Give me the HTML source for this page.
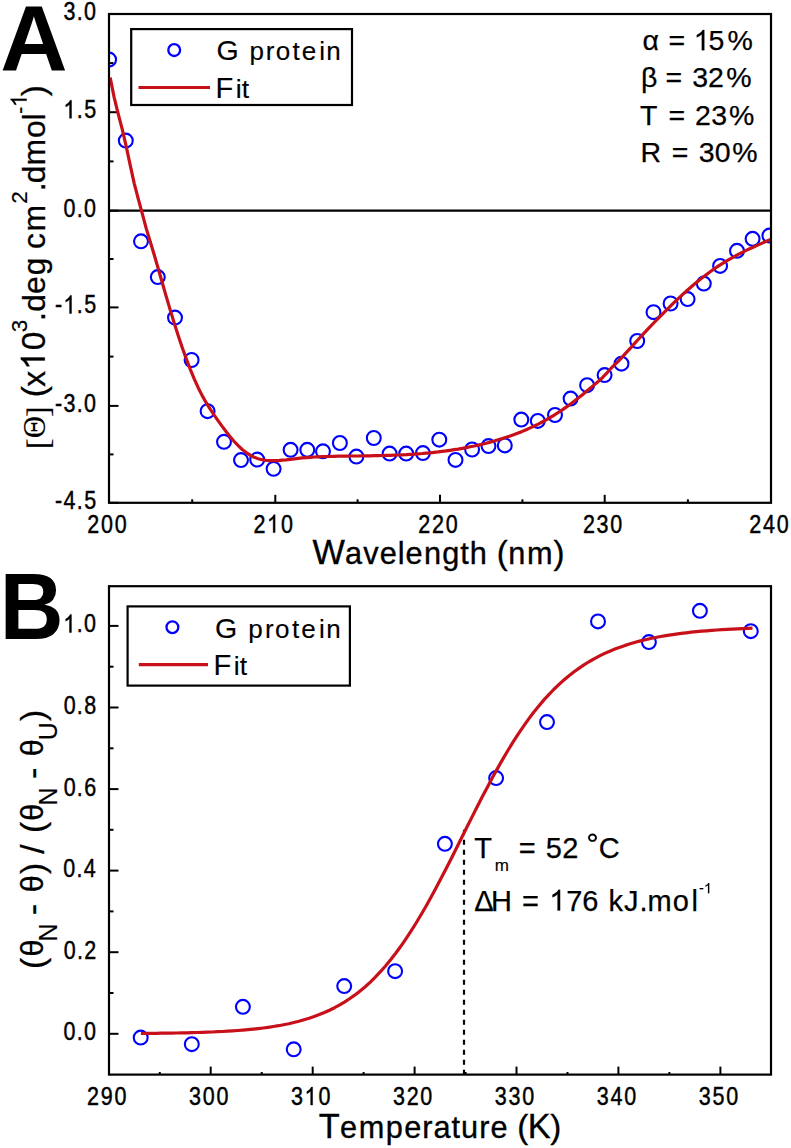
<!DOCTYPE html><html><head><meta charset="utf-8"><style>html,body{margin:0;padding:0;background:#fff;overflow:hidden;}svg{display:block;}text{font-family:"Liberation Sans",sans-serif;fill:#000;}.serif{font-family:"Liberation Serif",serif;}</style></head><body>
<svg width="791" height="1148" viewBox="0 0 791 1148">
<rect x="0" y="0" width="791" height="1148" fill="#fff"/>
<defs><clipPath id="ca"><rect x="109.0" y="14.0" width="662.0" height="488.8"/></clipPath><clipPath id="cb"><rect x="109.0" y="586.2" width="662.0" height="488.4"/></clipPath></defs>
<line x1="109.0" y1="210.7" x2="771.0" y2="210.7" stroke="#000" stroke-width="2.2"/>
<line x1="109.0" y1="14.0" x2="118.5" y2="14.0" stroke="#000" stroke-width="2"/>
<line x1="109.0" y1="112.2" x2="118.5" y2="112.2" stroke="#000" stroke-width="2"/>
<line x1="109.0" y1="210.7" x2="118.5" y2="210.7" stroke="#000" stroke-width="2"/>
<line x1="109.0" y1="307.4" x2="118.5" y2="307.4" stroke="#000" stroke-width="2"/>
<line x1="109.0" y1="405.9" x2="118.5" y2="405.9" stroke="#000" stroke-width="2"/>
<line x1="109.0" y1="502.8" x2="118.5" y2="502.8" stroke="#000" stroke-width="2"/>
<line x1="109.0" y1="63.1" x2="113.5" y2="63.1" stroke="#000" stroke-width="2"/>
<line x1="109.0" y1="161.4" x2="113.5" y2="161.4" stroke="#000" stroke-width="2"/>
<line x1="109.0" y1="259.0" x2="113.5" y2="259.0" stroke="#000" stroke-width="2"/>
<line x1="109.0" y1="356.6" x2="113.5" y2="356.6" stroke="#000" stroke-width="2"/>
<line x1="109.0" y1="454.4" x2="113.5" y2="454.4" stroke="#000" stroke-width="2"/>
<line x1="109.0" y1="502.8" x2="109.0" y2="494.8" stroke="#000" stroke-width="2"/>
<line x1="275.3" y1="502.8" x2="275.3" y2="494.8" stroke="#000" stroke-width="2"/>
<line x1="440.0" y1="502.8" x2="440.0" y2="494.8" stroke="#000" stroke-width="2"/>
<line x1="604.7" y1="502.8" x2="604.7" y2="494.8" stroke="#000" stroke-width="2"/>
<line x1="771.0" y1="502.8" x2="771.0" y2="494.8" stroke="#000" stroke-width="2"/>
<line x1="192.2" y1="502.8" x2="192.2" y2="499.3" stroke="#000" stroke-width="2"/>
<line x1="357.6" y1="502.8" x2="357.6" y2="499.3" stroke="#000" stroke-width="2"/>
<line x1="522.4" y1="502.8" x2="522.4" y2="499.3" stroke="#000" stroke-width="2"/>
<line x1="687.9" y1="502.8" x2="687.9" y2="499.3" stroke="#000" stroke-width="2"/>
<g clip-path="url(#ca)">
<circle cx="109.1" cy="59.6" r="6.95" fill="none" stroke="#0000ff" stroke-width="2.1"/>
<circle cx="125.8" cy="140.6" r="6.95" fill="none" stroke="#0000ff" stroke-width="2.1"/>
<circle cx="141.0" cy="241.3" r="6.95" fill="none" stroke="#0000ff" stroke-width="2.1"/>
<circle cx="157.8" cy="277.1" r="6.95" fill="none" stroke="#0000ff" stroke-width="2.1"/>
<circle cx="175.0" cy="317.6" r="6.95" fill="none" stroke="#0000ff" stroke-width="2.1"/>
<circle cx="191.6" cy="360.0" r="6.95" fill="none" stroke="#0000ff" stroke-width="2.1"/>
<circle cx="207.6" cy="411.2" r="6.95" fill="none" stroke="#0000ff" stroke-width="2.1"/>
<circle cx="224.0" cy="441.8" r="6.95" fill="none" stroke="#0000ff" stroke-width="2.1"/>
<circle cx="241.0" cy="460.1" r="6.95" fill="none" stroke="#0000ff" stroke-width="2.1"/>
<circle cx="257.2" cy="459.6" r="6.95" fill="none" stroke="#0000ff" stroke-width="2.1"/>
<circle cx="273.6" cy="468.8" r="6.95" fill="none" stroke="#0000ff" stroke-width="2.1"/>
<circle cx="290.6" cy="449.8" r="6.95" fill="none" stroke="#0000ff" stroke-width="2.1"/>
<circle cx="307.3" cy="449.8" r="6.95" fill="none" stroke="#0000ff" stroke-width="2.1"/>
<circle cx="323.0" cy="451.3" r="6.95" fill="none" stroke="#0000ff" stroke-width="2.1"/>
<circle cx="339.9" cy="443.0" r="6.95" fill="none" stroke="#0000ff" stroke-width="2.1"/>
<circle cx="356.4" cy="456.6" r="6.95" fill="none" stroke="#0000ff" stroke-width="2.1"/>
<circle cx="373.8" cy="438.0" r="6.95" fill="none" stroke="#0000ff" stroke-width="2.1"/>
<circle cx="389.6" cy="453.6" r="6.95" fill="none" stroke="#0000ff" stroke-width="2.1"/>
<circle cx="406.2" cy="453.6" r="6.95" fill="none" stroke="#0000ff" stroke-width="2.1"/>
<circle cx="422.9" cy="453.1" r="6.95" fill="none" stroke="#0000ff" stroke-width="2.1"/>
<circle cx="439.3" cy="439.7" r="6.95" fill="none" stroke="#0000ff" stroke-width="2.1"/>
<circle cx="455.5" cy="459.9" r="6.95" fill="none" stroke="#0000ff" stroke-width="2.1"/>
<circle cx="472.1" cy="449.5" r="6.95" fill="none" stroke="#0000ff" stroke-width="2.1"/>
<circle cx="488.5" cy="446.1" r="6.95" fill="none" stroke="#0000ff" stroke-width="2.1"/>
<circle cx="504.8" cy="445.4" r="6.95" fill="none" stroke="#0000ff" stroke-width="2.1"/>
<circle cx="521.3" cy="419.6" r="6.95" fill="none" stroke="#0000ff" stroke-width="2.1"/>
<circle cx="537.8" cy="420.9" r="6.95" fill="none" stroke="#0000ff" stroke-width="2.1"/>
<circle cx="555.0" cy="415.0" r="6.95" fill="none" stroke="#0000ff" stroke-width="2.1"/>
<circle cx="570.6" cy="398.6" r="6.95" fill="none" stroke="#0000ff" stroke-width="2.1"/>
<circle cx="587.1" cy="385.2" r="6.95" fill="none" stroke="#0000ff" stroke-width="2.1"/>
<circle cx="604.6" cy="375.1" r="6.95" fill="none" stroke="#0000ff" stroke-width="2.1"/>
<circle cx="621.5" cy="363.7" r="6.95" fill="none" stroke="#0000ff" stroke-width="2.1"/>
<circle cx="637.2" cy="341.0" r="6.95" fill="none" stroke="#0000ff" stroke-width="2.1"/>
<circle cx="653.5" cy="312.2" r="6.95" fill="none" stroke="#0000ff" stroke-width="2.1"/>
<circle cx="670.6" cy="303.5" r="6.95" fill="none" stroke="#0000ff" stroke-width="2.1"/>
<circle cx="687.6" cy="299.1" r="6.95" fill="none" stroke="#0000ff" stroke-width="2.1"/>
<circle cx="703.8" cy="283.6" r="6.95" fill="none" stroke="#0000ff" stroke-width="2.1"/>
<circle cx="720.1" cy="265.9" r="6.95" fill="none" stroke="#0000ff" stroke-width="2.1"/>
<circle cx="737.0" cy="250.8" r="6.95" fill="none" stroke="#0000ff" stroke-width="2.1"/>
<circle cx="752.6" cy="238.8" r="6.95" fill="none" stroke="#0000ff" stroke-width="2.1"/>
<circle cx="769.4" cy="235.6" r="6.95" fill="none" stroke="#0000ff" stroke-width="2.1"/>
<path d="M110.2,77.5 L114.2,97.6 L118.2,113.9 L122.2,129.2 L126.2,146.3 L130.2,165.2 L134.2,183.3 L138.2,198.7 L142.2,213.4 L146.2,228.4 L150.2,241.5 L154.2,254.8 L158.2,268.5 L162.2,282.5 L166.2,296.4 L170.2,309.9 L174.2,323.0 L178.2,335.5 L182.2,347.4 L186.2,358.6 L190.2,369.1 L194.2,378.8 L198.2,387.7 L202.2,395.6 L206.2,402.7 L210.2,409.1 L214.2,415.1 L218.2,420.8 L222.2,426.4 L226.2,431.7 L230.2,436.8 L234.2,441.5 L238.2,445.7 L242.2,449.5 L246.2,452.6 L250.2,455.2 L254.2,457.2 L258.2,458.7 L262.2,459.7 L266.2,460.4 L270.2,460.7 L274.2,460.7 L278.2,460.6 L282.2,460.2 L286.2,459.8 L290.2,459.3 L294.2,458.8 L298.2,458.3 L302.2,457.9 L306.2,457.6 L310.2,457.3 L314.2,457.0 L318.2,456.8 L322.2,456.6 L326.2,456.5 L330.2,456.4 L334.2,456.3 L338.2,456.2 L342.2,456.1 L346.2,456.1 L350.2,456.0 L354.2,456.0 L358.2,456.0 L362.2,455.9 L366.2,455.9 L370.2,455.8 L374.2,455.7 L378.2,455.6 L382.2,455.5 L386.2,455.4 L390.2,455.3 L394.2,455.1 L398.2,455.0 L402.2,454.8 L406.2,454.6 L410.2,454.3 L414.2,454.1 L418.2,453.8 L422.2,453.5 L426.2,453.1 L430.2,452.8 L434.2,452.3 L438.2,451.9 L442.2,451.4 L446.2,450.9 L450.2,450.3 L454.2,449.7 L458.2,449.1 L462.2,448.4 L466.2,447.6 L470.2,446.8 L474.2,446.0 L478.2,445.1 L482.2,444.2 L486.2,443.2 L490.2,442.1 L494.2,441.0 L498.2,439.8 L502.2,438.6 L506.2,437.3 L510.2,435.9 L514.2,434.5 L518.2,432.9 L522.2,431.4 L526.2,429.7 L530.2,427.9 L534.2,426.0 L538.2,424.1 L542.2,422.0 L546.2,419.8 L550.2,417.5 L554.2,415.1 L558.2,412.5 L562.2,409.9 L566.2,407.1 L570.2,404.2 L574.2,401.2 L578.2,398.1 L582.2,394.9 L586.2,391.6 L590.2,388.3 L594.2,384.9 L598.2,381.5 L602.2,377.8 L606.2,373.7 L610.2,369.2 L614.2,365.2 L618.2,361.4 L622.2,357.1 L626.2,352.7 L630.2,348.3 L634.2,343.9 L638.2,339.5 L642.2,335.2 L646.2,330.9 L650.2,326.7 L654.2,322.5 L658.2,318.4 L662.2,314.3 L666.2,310.3 L670.2,306.3 L674.2,302.4 L678.2,298.6 L682.2,294.9 L686.2,291.3 L690.2,287.8 L694.2,284.3 L698.2,281.0 L702.2,277.8 L706.2,274.7 L710.2,271.7 L714.2,268.9 L718.2,266.2 L722.2,263.6 L726.2,261.1 L730.2,258.8 L734.2,256.6 L738.2,254.4 L742.2,252.4 L746.2,250.4 L750.2,248.5 L754.2,246.7 L758.2,244.9 L762.2,243.1 L766.2,241.3 L770.2,239.6 L771.0,239.2" fill="none" stroke="#c8101a" stroke-width="3.2" stroke-linejoin="round"/>
</g>
<rect x="109.0" y="14.0" width="662.0" height="488.8" fill="none" stroke="#000" stroke-width="2.2"/>
<text transform="translate(69.43,0) scale(0.860,1)" x="-6.88" y="20.00" font-size="25.00" stroke="#000" stroke-width="0.45">3</text><text transform="translate(79.73,0) scale(0.860,1)" x="-3.47" y="20.00" font-size="25.00" stroke="#000" stroke-width="0.45">.</text><text transform="translate(90.06,0) scale(0.860,1)" x="-6.95" y="20.00" font-size="25.00" stroke="#000" stroke-width="0.45">0</text>
<path d="M71.47,118.20 L69.58,118.20 L69.58,104.20 Q68.90,104.96 67.87,105.66 Q66.85,106.36 65.80,106.81 L65.80,104.69 Q67.57,103.72 68.72,102.53 Q69.87,101.33 70.25,100.30 L71.47,100.30 Z" stroke="#000" stroke-width="0.45"/><text transform="translate(79.80,0) scale(0.860,1)" x="-3.47" y="118.20" font-size="25.00" stroke="#000" stroke-width="0.45">.</text><text transform="translate(90.10,0) scale(0.860,1)" x="-6.93" y="118.20" font-size="25.00" stroke="#000" stroke-width="0.45">5</text>
<text transform="translate(69.50,0) scale(0.860,1)" x="-6.95" y="216.70" font-size="25.00" stroke="#000" stroke-width="0.45">0</text><text transform="translate(79.73,0) scale(0.860,1)" x="-3.47" y="216.70" font-size="25.00" stroke="#000" stroke-width="0.45">.</text><text transform="translate(90.06,0) scale(0.860,1)" x="-6.95" y="216.70" font-size="25.00" stroke="#000" stroke-width="0.45">0</text>
<text transform="translate(58.57,0) scale(0.860,1)" x="-4.16" y="313.40" font-size="25.00" stroke="#000" stroke-width="0.45">-</text><path d="M71.47,313.40 L69.58,313.40 L69.58,299.40 Q68.90,300.16 67.87,300.86 Q66.85,301.56 65.80,302.01 L65.80,299.89 Q67.57,298.92 68.72,297.73 Q69.87,296.53 70.25,295.50 L71.47,295.50 Z" stroke="#000" stroke-width="0.45"/><text transform="translate(79.80,0) scale(0.860,1)" x="-3.47" y="313.40" font-size="25.00" stroke="#000" stroke-width="0.45">.</text><text transform="translate(90.10,0) scale(0.860,1)" x="-6.93" y="313.40" font-size="25.00" stroke="#000" stroke-width="0.45">5</text>
<text transform="translate(58.51,0) scale(0.860,1)" x="-4.16" y="411.90" font-size="25.00" stroke="#000" stroke-width="0.45">-</text><text transform="translate(69.43,0) scale(0.860,1)" x="-6.88" y="411.90" font-size="25.00" stroke="#000" stroke-width="0.45">3</text><text transform="translate(79.73,0) scale(0.860,1)" x="-3.47" y="411.90" font-size="25.00" stroke="#000" stroke-width="0.45">.</text><text transform="translate(90.06,0) scale(0.860,1)" x="-6.95" y="411.90" font-size="25.00" stroke="#000" stroke-width="0.45">0</text>
<text transform="translate(58.57,0) scale(0.860,1)" x="-4.16" y="508.80" font-size="25.00" stroke="#000" stroke-width="0.45">-</text><text transform="translate(69.49,0) scale(0.860,1)" x="-6.87" y="508.80" font-size="25.00" stroke="#000" stroke-width="0.45">4</text><text transform="translate(79.80,0) scale(0.860,1)" x="-3.47" y="508.80" font-size="25.00" stroke="#000" stroke-width="0.45">.</text><text transform="translate(90.10,0) scale(0.860,1)" x="-6.93" y="508.80" font-size="25.00" stroke="#000" stroke-width="0.45">5</text>
<text transform="translate(93.17,0) scale(0.860,1)" x="-6.95" y="532.60" font-size="25.00" stroke="#000" stroke-width="0.45">2</text><text transform="translate(106.88,0) scale(0.860,1)" x="-6.95" y="532.60" font-size="25.00" stroke="#000" stroke-width="0.45">0</text><text transform="translate(120.59,0) scale(0.860,1)" x="-6.95" y="532.60" font-size="25.00" stroke="#000" stroke-width="0.45">0</text>
<text transform="translate(259.47,0) scale(0.860,1)" x="-6.95" y="532.60" font-size="25.00" stroke="#000" stroke-width="0.45">2</text><path d="M275.08,532.60 L273.19,532.60 L273.19,518.60 Q272.51,519.36 271.48,520.06 Q270.46,520.76 269.41,521.21 L269.41,519.09 Q271.17,518.12 272.33,516.93 Q273.48,515.73 273.86,514.70 L275.08,514.70 Z" stroke="#000" stroke-width="0.45"/><text transform="translate(286.89,0) scale(0.860,1)" x="-6.95" y="532.60" font-size="25.00" stroke="#000" stroke-width="0.45">0</text>
<text transform="translate(424.17,0) scale(0.860,1)" x="-6.95" y="532.60" font-size="25.00" stroke="#000" stroke-width="0.45">2</text><text transform="translate(437.88,0) scale(0.860,1)" x="-6.95" y="532.60" font-size="25.00" stroke="#000" stroke-width="0.45">2</text><text transform="translate(451.59,0) scale(0.860,1)" x="-6.95" y="532.60" font-size="25.00" stroke="#000" stroke-width="0.45">0</text>
<text transform="translate(588.87,0) scale(0.860,1)" x="-6.95" y="532.60" font-size="25.00" stroke="#000" stroke-width="0.45">2</text><text transform="translate(602.51,0) scale(0.860,1)" x="-6.88" y="532.60" font-size="25.00" stroke="#000" stroke-width="0.45">3</text><text transform="translate(616.29,0) scale(0.860,1)" x="-6.95" y="532.60" font-size="25.00" stroke="#000" stroke-width="0.45">0</text>
<text transform="translate(755.17,0) scale(0.860,1)" x="-6.95" y="532.60" font-size="25.00" stroke="#000" stroke-width="0.45">2</text><text transform="translate(768.80,0) scale(0.860,1)" x="-6.87" y="532.60" font-size="25.00" stroke="#000" stroke-width="0.45">4</text><text transform="translate(782.59,0) scale(0.860,1)" x="-6.95" y="532.60" font-size="25.00" stroke="#000" stroke-width="0.45">0</text>
<text x="312.61" y="564.40" font-size="34.32" stroke="#000" stroke-width="0.35">W</text><text x="345.07" y="564.40" font-size="30.69" stroke="#000" stroke-width="0.35">a</text><text x="363.31" y="564.40" font-size="30.69" stroke="#000" stroke-width="0.35">v</text><text x="379.87" y="564.40" font-size="30.69" stroke="#000" stroke-width="0.35">e</text><text x="397.84" y="564.40" font-size="30.69" stroke="#000" stroke-width="0.35">l</text><text x="405.56" y="564.40" font-size="30.69" stroke="#000" stroke-width="0.35">e</text><text x="423.91" y="564.40" font-size="30.69" stroke="#000" stroke-width="0.35">n</text><text x="442.24" y="564.40" font-size="30.69" stroke="#000" stroke-width="0.35">g</text><text x="460.31" y="564.40" font-size="30.69" stroke="#000" stroke-width="0.35">t</text><text x="469.79" y="564.40" font-size="30.69" stroke="#000" stroke-width="0.35">h</text><text x="496.67" y="564.40" font-size="33.00" stroke="#000" stroke-width="0.35">(</text><text x="508.30" y="564.40" font-size="30.69" stroke="#000" stroke-width="0.35">n</text><text x="526.97" y="564.40" font-size="30.69" stroke="#000" stroke-width="0.35">m</text><text x="553.50" y="564.40" font-size="33.00" stroke="#000" stroke-width="0.35">)</text>
<text x="0.32" y="70.40" font-size="93.20" font-weight="bold">A</text>
<rect x="131.2" y="29.1" width="220.8" height="75.9" fill="#fff" stroke="#000" stroke-width="2.2"/>
<circle cx="174.2" cy="50.1" r="5.9" fill="none" stroke="#0000ff" stroke-width="2.3"/>
<line x1="138.5" y1="87.5" x2="210" y2="87.5" stroke="#c8101a" stroke-width="3.2"/>
<text x="216.49" y="59.80" font-size="28.56" stroke="#000" stroke-width="0.15">G</text><text x="249.42" y="59.80" font-size="26.04" stroke="#000" stroke-width="0.15">p</text><text x="265.82" y="59.80" font-size="26.04" stroke="#000" stroke-width="0.15">r</text><text x="275.86" y="59.80" font-size="26.04" stroke="#000" stroke-width="0.15">o</text><text x="292.48" y="59.80" font-size="26.04" stroke="#000" stroke-width="0.15">t</text><text x="301.78" y="59.80" font-size="26.04" stroke="#000" stroke-width="0.15">e</text><text x="319.26" y="59.80" font-size="26.04" stroke="#000" stroke-width="0.15">i</text><text x="326.34" y="59.80" font-size="26.04" stroke="#000" stroke-width="0.15">n</text>
<text x="215.61" y="97.60" font-size="29.07" stroke="#000" stroke-width="0.15">F</text><text x="235.76" y="97.60" font-size="26.51" stroke="#000" stroke-width="0.15">i</text><text x="241.71" y="97.60" font-size="26.51" stroke="#000" stroke-width="0.15">t</text>
<text x="642.62" y="50.30" font-size="28.50" stroke="#000" stroke-width="0.25">α</text><text x="668.39" y="50.30" font-size="28.50" stroke="#000" stroke-width="0.25">=</text><path d="M704.31,50.30 L701.80,50.30 L701.80,34.34 Q700.90,35.20 699.54,36.00 Q698.18,36.80 696.79,37.32 L696.79,34.89 Q699.13,33.80 700.66,32.43 Q702.19,31.07 702.69,29.90 L704.31,29.90 Z" stroke="#000" stroke-width="0.25"/><text x="708.50" y="50.30" font-size="28.50" stroke="#000" stroke-width="0.25">5</text><text x="727.38" y="50.30" font-size="28.50" stroke="#000" stroke-width="0.25">%</text>
<text x="640.98" y="86.90" font-size="28.50" stroke="#000" stroke-width="0.25">β</text><text x="665.39" y="86.90" font-size="28.50" stroke="#000" stroke-width="0.25">=</text><text x="692.36" y="86.90" font-size="28.50" stroke="#000" stroke-width="0.25">3</text><text x="708.07" y="86.90" font-size="28.50" stroke="#000" stroke-width="0.25">2</text><text x="726.23" y="86.90" font-size="28.50" stroke="#000" stroke-width="0.25">%</text>
<text x="640.10" y="124.50" font-size="28.50" stroke="#000" stroke-width="0.25">T</text><text x="668.59" y="124.50" font-size="28.50" stroke="#000" stroke-width="0.25">=</text><text x="695.02" y="124.50" font-size="28.50" stroke="#000" stroke-width="0.25">2</text><text x="711.16" y="124.50" font-size="28.50" stroke="#000" stroke-width="0.25">3</text><text x="728.98" y="124.50" font-size="28.50" stroke="#000" stroke-width="0.25">%</text>
<text x="640.40" y="161.60" font-size="28.50" stroke="#000" stroke-width="0.25">R</text><text x="671.69" y="161.60" font-size="28.50" stroke="#000" stroke-width="0.25">=</text><text x="698.66" y="161.60" font-size="28.50" stroke="#000" stroke-width="0.25">3</text><text x="714.77" y="161.60" font-size="28.50" stroke="#000" stroke-width="0.25">0</text><text x="732.18" y="161.60" font-size="28.50" stroke="#000" stroke-width="0.25">%</text>
<g transform="rotate(-90)">
<text x="-449.09" y="49.00" font-size="32.00" class="serif" stroke="#000" stroke-width="0.15">[</text>
<text x="-438.14" y="44.90" font-size="31.00" class="serif" stroke="#000" stroke-width="0.15">Θ</text>
<text x="-417.07" y="49.00" font-size="32.00" class="serif" stroke="#000" stroke-width="0.15">]</text>
<text x="-397.22" y="44.80" font-size="33.50" stroke="#000" stroke-width="0.30">(</text><text x="-386.81" y="44.80" font-size="31.82" stroke="#000" stroke-width="0.30">x</text><path d="M-357.53,44.80 L-360.48,44.80 L-360.48,26.04 Q-361.54,27.05 -363.14,27.99 Q-364.73,28.93 -366.37,29.54 L-366.37,26.69 Q-363.62,25.40 -361.82,23.80 Q-360.02,22.19 -359.43,20.82 L-357.53,20.82 Z" stroke="#000" stroke-width="0.30"/><text x="-350.37" y="44.80" font-size="33.50" stroke="#000" stroke-width="0.30">0</text><text x="-321.35" y="44.80" font-size="33.50" stroke="#000" stroke-width="0.30">.</text><text x="-311.74" y="44.80" font-size="31.82" stroke="#000" stroke-width="0.30">d</text><text x="-293.97" y="44.80" font-size="31.82" stroke="#000" stroke-width="0.30">e</text><text x="-275.24" y="44.80" font-size="31.82" stroke="#000" stroke-width="0.30">g</text><text x="-248.91" y="44.80" font-size="31.82" stroke="#000" stroke-width="0.30">c</text><text x="-231.61" y="44.80" font-size="31.82" stroke="#000" stroke-width="0.30">m</text><text x="-191.45" y="44.80" font-size="33.50" stroke="#000" stroke-width="0.30">.</text><text x="-183.34" y="44.80" font-size="31.82" stroke="#000" stroke-width="0.30">d</text><text x="-165.61" y="44.80" font-size="31.82" stroke="#000" stroke-width="0.30">m</text><text x="-138.05" y="44.80" font-size="31.82" stroke="#000" stroke-width="0.30">o</text><text x="-120.39" y="44.80" font-size="31.82" stroke="#000" stroke-width="0.30">l</text><text x="-96.29" y="44.80" font-size="33.50" stroke="#000" stroke-width="0.30">)</text>
<text x="-332.29" y="26.70" font-size="22.50" stroke="#000" stroke-width="0.18">3</text><text x="-203.76" y="26.70" font-size="22.50" stroke="#000" stroke-width="0.18">2</text><text x="-114.00" y="26.70" font-size="22.50" stroke="#000" stroke-width="0.18">-</text><path d="M-98.78,26.70 L-100.76,26.70 L-100.76,14.10 Q-101.48,14.78 -102.55,15.41 Q-103.62,16.04 -104.72,16.45 L-104.72,14.54 Q-102.87,13.67 -101.66,12.59 Q-100.45,11.52 -100.06,10.59 L-98.78,10.59 Z" stroke="#000" stroke-width="0.18"/>
</g>
<line x1="109.0" y1="1033.8" x2="118.5" y2="1033.8" stroke="#000" stroke-width="2"/>
<line x1="109.0" y1="993.0" x2="113.5" y2="993.0" stroke="#000" stroke-width="2"/>
<line x1="109.0" y1="952.2" x2="118.5" y2="952.2" stroke="#000" stroke-width="2"/>
<line x1="109.0" y1="911.4" x2="113.5" y2="911.4" stroke="#000" stroke-width="2"/>
<line x1="109.0" y1="870.6" x2="118.5" y2="870.6" stroke="#000" stroke-width="2"/>
<line x1="109.0" y1="829.8" x2="113.5" y2="829.8" stroke="#000" stroke-width="2"/>
<line x1="109.0" y1="789.1" x2="118.5" y2="789.1" stroke="#000" stroke-width="2"/>
<line x1="109.0" y1="748.3" x2="113.5" y2="748.3" stroke="#000" stroke-width="2"/>
<line x1="109.0" y1="707.5" x2="118.5" y2="707.5" stroke="#000" stroke-width="2"/>
<line x1="109.0" y1="666.7" x2="113.5" y2="666.7" stroke="#000" stroke-width="2"/>
<line x1="109.0" y1="625.9" x2="118.5" y2="625.9" stroke="#000" stroke-width="2"/>
<line x1="159.8" y1="1074.6" x2="159.8" y2="1072.0" stroke="#000" stroke-width="2"/>
<line x1="210.7" y1="1074.6" x2="210.7" y2="1066.6" stroke="#000" stroke-width="2"/>
<line x1="261.7" y1="1074.6" x2="261.7" y2="1072.0" stroke="#000" stroke-width="2"/>
<line x1="312.7" y1="1074.6" x2="312.7" y2="1066.6" stroke="#000" stroke-width="2"/>
<line x1="363.6" y1="1074.6" x2="363.6" y2="1072.0" stroke="#000" stroke-width="2"/>
<line x1="414.6" y1="1074.6" x2="414.6" y2="1066.6" stroke="#000" stroke-width="2"/>
<line x1="465.6" y1="1074.6" x2="465.6" y2="1072.0" stroke="#000" stroke-width="2"/>
<line x1="516.5" y1="1074.6" x2="516.5" y2="1066.6" stroke="#000" stroke-width="2"/>
<line x1="567.5" y1="1074.6" x2="567.5" y2="1072.0" stroke="#000" stroke-width="2"/>
<line x1="618.4" y1="1074.6" x2="618.4" y2="1066.6" stroke="#000" stroke-width="2"/>
<line x1="669.4" y1="1074.6" x2="669.4" y2="1072.0" stroke="#000" stroke-width="2"/>
<line x1="720.4" y1="1074.6" x2="720.4" y2="1066.6" stroke="#000" stroke-width="2"/>
<line x1="464" y1="829.8" x2="464" y2="1074.6" stroke="#000" stroke-width="2.2" stroke-dasharray="5,5"/>
<g clip-path="url(#cb)">
<circle cx="140.7" cy="1037.6" r="6.95" fill="none" stroke="#0000ff" stroke-width="2.1"/>
<circle cx="191.8" cy="1044.2" r="6.95" fill="none" stroke="#0000ff" stroke-width="2.1"/>
<circle cx="242.9" cy="1006.8" r="6.95" fill="none" stroke="#0000ff" stroke-width="2.1"/>
<circle cx="293.7" cy="1049.3" r="6.95" fill="none" stroke="#0000ff" stroke-width="2.1"/>
<circle cx="344.2" cy="986.1" r="6.95" fill="none" stroke="#0000ff" stroke-width="2.1"/>
<circle cx="395.1" cy="971.2" r="6.95" fill="none" stroke="#0000ff" stroke-width="2.1"/>
<circle cx="444.9" cy="843.8" r="6.95" fill="none" stroke="#0000ff" stroke-width="2.1"/>
<circle cx="496.1" cy="778.1" r="6.95" fill="none" stroke="#0000ff" stroke-width="2.1"/>
<circle cx="547.0" cy="722.1" r="6.95" fill="none" stroke="#0000ff" stroke-width="2.1"/>
<circle cx="598.0" cy="621.4" r="6.95" fill="none" stroke="#0000ff" stroke-width="2.1"/>
<circle cx="648.9" cy="642.1" r="6.95" fill="none" stroke="#0000ff" stroke-width="2.1"/>
<circle cx="699.9" cy="610.8" r="6.95" fill="none" stroke="#0000ff" stroke-width="2.1"/>
<circle cx="750.8" cy="631.2" r="6.95" fill="none" stroke="#0000ff" stroke-width="2.1"/>
<path d="M140.9,1033.5 L146.0,1033.4 L151.1,1033.4 L156.2,1033.3 L161.3,1033.2 L166.4,1033.2 L171.5,1033.1 L176.6,1033.0 L181.7,1032.9 L186.8,1032.8 L191.9,1032.6 L197.0,1032.5 L202.1,1032.3 L207.2,1032.2 L212.3,1032.0 L217.4,1031.7 L222.5,1031.5 L227.5,1031.2 L232.6,1030.9 L237.7,1030.5 L242.8,1030.1 L247.9,1029.7 L253.0,1029.2 L258.1,1028.6 L263.2,1028.0 L268.3,1027.3 L273.4,1026.5 L278.5,1025.7 L283.6,1024.7 L288.7,1023.7 L293.8,1022.5 L298.9,1021.3 L304.0,1019.8 L309.1,1018.3 L314.2,1016.5 L319.3,1014.6 L324.4,1012.5 L329.5,1010.2 L334.6,1007.7 L339.7,1004.9 L344.8,1001.8 L349.9,998.5 L355.0,994.9 L360.1,991.0 L365.2,986.7 L370.3,982.1 L375.3,977.1 L380.4,971.7 L385.5,966.0 L390.6,959.8 L395.7,953.3 L400.8,946.3 L405.9,938.9 L411.0,931.2 L416.1,923.0 L421.2,914.5 L426.3,905.7 L431.4,896.5 L436.5,887.0 L441.6,877.3 L446.7,867.4 L451.8,857.4 L456.9,847.2 L462.0,837.0 L467.1,826.8 L472.2,816.6 L477.3,806.5 L482.4,796.6 L487.5,786.9 L492.6,777.3 L497.7,768.1 L502.8,759.1 L507.9,750.5 L513.0,742.2 L518.0,734.3 L523.1,726.8 L528.2,719.6 L533.3,712.8 L538.4,706.5 L543.5,700.4 L548.6,694.8 L553.7,689.5 L558.8,684.6 L563.9,680.0 L569.0,675.7 L574.1,671.7 L579.2,668.1 L584.3,664.7 L589.4,661.5 L594.5,658.6 L599.6,655.9 L604.7,653.4 L609.8,651.2 L614.9,649.1 L620.0,647.2 L625.1,645.4 L630.2,643.8 L635.3,642.3 L640.4,640.9 L645.5,639.7 L650.6,638.5 L655.7,637.5 L660.8,636.5 L665.8,635.6 L670.9,634.8 L676.0,634.1 L681.1,633.4 L686.2,632.8 L691.3,632.2 L696.4,631.7 L701.5,631.2 L706.6,630.8 L711.7,630.4 L716.8,630.0 L721.9,629.7 L727.0,629.3 L732.1,629.1 L737.2,628.8 L742.3,628.6 L747.4,628.4 L752.5,628.2" fill="none" stroke="#c8101a" stroke-width="3.2" stroke-linejoin="round"/>
</g>
<rect x="109.0" y="586.2" width="662.0" height="488.4" fill="none" stroke="#000" stroke-width="2.2"/>
<text transform="translate(69.50,0) scale(0.860,1)" x="-6.95" y="1040.40" font-size="25.00" stroke="#000" stroke-width="0.45">0</text><text transform="translate(79.73,0) scale(0.860,1)" x="-3.47" y="1040.40" font-size="25.00" stroke="#000" stroke-width="0.45">.</text><text transform="translate(90.06,0) scale(0.860,1)" x="-6.95" y="1040.40" font-size="25.00" stroke="#000" stroke-width="0.45">0</text>
<text transform="translate(69.74,0) scale(0.860,1)" x="-6.95" y="958.82" font-size="25.00" stroke="#000" stroke-width="0.45">0</text><text transform="translate(79.98,0) scale(0.860,1)" x="-3.47" y="958.82" font-size="25.00" stroke="#000" stroke-width="0.45">.</text><text transform="translate(90.30,0) scale(0.860,1)" x="-6.95" y="958.82" font-size="25.00" stroke="#000" stroke-width="0.45">2</text>
<text transform="translate(69.30,0) scale(0.860,1)" x="-6.95" y="877.24" font-size="25.00" stroke="#000" stroke-width="0.45">0</text><text transform="translate(79.53,0) scale(0.860,1)" x="-3.47" y="877.24" font-size="25.00" stroke="#000" stroke-width="0.45">.</text><text transform="translate(89.78,0) scale(0.860,1)" x="-6.87" y="877.24" font-size="25.00" stroke="#000" stroke-width="0.45">4</text>
<text transform="translate(69.60,0) scale(0.860,1)" x="-6.95" y="795.66" font-size="25.00" stroke="#000" stroke-width="0.45">0</text><text transform="translate(79.83,0) scale(0.860,1)" x="-3.47" y="795.66" font-size="25.00" stroke="#000" stroke-width="0.45">.</text><text transform="translate(90.24,0) scale(0.860,1)" x="-7.04" y="795.66" font-size="25.00" stroke="#000" stroke-width="0.45">6</text>
<text transform="translate(69.60,0) scale(0.860,1)" x="-6.95" y="714.08" font-size="25.00" stroke="#000" stroke-width="0.45">0</text><text transform="translate(79.83,0) scale(0.860,1)" x="-3.47" y="714.08" font-size="25.00" stroke="#000" stroke-width="0.45">.</text><text transform="translate(90.16,0) scale(0.860,1)" x="-6.95" y="714.08" font-size="25.00" stroke="#000" stroke-width="0.45">8</text>
<path d="M71.40,632.50 L69.51,632.50 L69.51,618.50 Q68.83,619.26 67.81,619.96 Q66.78,620.66 65.74,621.11 L65.74,618.99 Q67.50,618.02 68.65,616.83 Q69.81,615.63 70.19,614.60 L71.40,614.60 Z" stroke="#000" stroke-width="0.45"/><text transform="translate(79.73,0) scale(0.860,1)" x="-3.47" y="632.50" font-size="25.00" stroke="#000" stroke-width="0.45">.</text><text transform="translate(90.06,0) scale(0.860,1)" x="-6.95" y="632.50" font-size="25.00" stroke="#000" stroke-width="0.45">0</text>
<text transform="translate(92.97,0) scale(0.860,1)" x="-6.95" y="1105.00" font-size="25.00" stroke="#000" stroke-width="0.45">2</text><text transform="translate(106.67,0) scale(0.860,1)" x="-6.95" y="1105.00" font-size="25.00" stroke="#000" stroke-width="0.45">9</text><text transform="translate(120.39,0) scale(0.860,1)" x="-6.95" y="1105.00" font-size="25.00" stroke="#000" stroke-width="0.45">0</text>
<text transform="translate(194.96,0) scale(0.860,1)" x="-6.88" y="1105.00" font-size="25.00" stroke="#000" stroke-width="0.45">3</text><text transform="translate(208.75,0) scale(0.860,1)" x="-6.95" y="1105.00" font-size="25.00" stroke="#000" stroke-width="0.45">0</text><text transform="translate(222.45,0) scale(0.860,1)" x="-6.95" y="1105.00" font-size="25.00" stroke="#000" stroke-width="0.45">0</text>
<text transform="translate(296.89,0) scale(0.860,1)" x="-6.88" y="1105.00" font-size="25.00" stroke="#000" stroke-width="0.45">3</text><path d="M312.58,1105.00 L310.69,1105.00 L310.69,1091.00 Q310.00,1091.76 308.98,1092.46 Q307.96,1093.16 306.91,1093.61 L306.91,1091.49 Q308.67,1090.52 309.83,1089.33 Q310.98,1088.13 311.36,1087.10 L312.58,1087.10 Z" stroke="#000" stroke-width="0.45"/><text transform="translate(324.38,0) scale(0.860,1)" x="-6.95" y="1105.00" font-size="25.00" stroke="#000" stroke-width="0.45">0</text>
<text transform="translate(398.82,0) scale(0.860,1)" x="-6.88" y="1105.00" font-size="25.00" stroke="#000" stroke-width="0.45">3</text><text transform="translate(412.61,0) scale(0.860,1)" x="-6.95" y="1105.00" font-size="25.00" stroke="#000" stroke-width="0.45">2</text><text transform="translate(426.31,0) scale(0.860,1)" x="-6.95" y="1105.00" font-size="25.00" stroke="#000" stroke-width="0.45">0</text>
<text transform="translate(500.75,0) scale(0.860,1)" x="-6.88" y="1105.00" font-size="25.00" stroke="#000" stroke-width="0.45">3</text><text transform="translate(514.46,0) scale(0.860,1)" x="-6.88" y="1105.00" font-size="25.00" stroke="#000" stroke-width="0.45">3</text><text transform="translate(528.24,0) scale(0.860,1)" x="-6.95" y="1105.00" font-size="25.00" stroke="#000" stroke-width="0.45">0</text>
<text transform="translate(602.68,0) scale(0.860,1)" x="-6.88" y="1105.00" font-size="25.00" stroke="#000" stroke-width="0.45">3</text><text transform="translate(616.39,0) scale(0.860,1)" x="-6.87" y="1105.00" font-size="25.00" stroke="#000" stroke-width="0.45">4</text><text transform="translate(630.17,0) scale(0.860,1)" x="-6.95" y="1105.00" font-size="25.00" stroke="#000" stroke-width="0.45">0</text>
<text transform="translate(704.61,0) scale(0.860,1)" x="-6.88" y="1105.00" font-size="25.00" stroke="#000" stroke-width="0.45">3</text><text transform="translate(718.37,0) scale(0.860,1)" x="-6.93" y="1105.00" font-size="25.00" stroke="#000" stroke-width="0.45">5</text><text transform="translate(732.10,0) scale(0.860,1)" x="-6.95" y="1105.00" font-size="25.00" stroke="#000" stroke-width="0.45">0</text>
<text x="318.80" y="1137.50" font-size="34.32" stroke="#000" stroke-width="0.35">T</text><text x="340.00" y="1137.50" font-size="30.69" stroke="#000" stroke-width="0.35">e</text><text x="358.68" y="1137.50" font-size="30.69" stroke="#000" stroke-width="0.35">m</text><text x="385.87" y="1137.50" font-size="30.69" stroke="#000" stroke-width="0.35">p</text><text x="404.20" y="1137.50" font-size="30.69" stroke="#000" stroke-width="0.35">e</text><text x="422.35" y="1137.50" font-size="30.69" stroke="#000" stroke-width="0.35">r</text><text x="433.59" y="1137.50" font-size="30.69" stroke="#000" stroke-width="0.35">a</text><text x="451.58" y="1137.50" font-size="30.69" stroke="#000" stroke-width="0.35">t</text><text x="461.06" y="1137.50" font-size="30.69" stroke="#000" stroke-width="0.35">u</text><text x="479.22" y="1137.50" font-size="30.69" stroke="#000" stroke-width="0.35">r</text><text x="490.40" y="1137.50" font-size="30.69" stroke="#000" stroke-width="0.35">e</text><text x="517.28" y="1137.50" font-size="33.00" stroke="#000" stroke-width="0.35">(</text><text x="527.79" y="1137.50" font-size="34.32" stroke="#000" stroke-width="0.35">K</text><text x="550.28" y="1137.50" font-size="33.00" stroke="#000" stroke-width="0.35">)</text>
<g transform="translate(5.7,0) scale(0.94,1)"><text x="-6.39" y="639.50" font-size="94.00" font-weight="bold">B</text></g>
<rect x="127.6" y="606.4" width="222.3" height="79.2" fill="#fff" stroke="#000" stroke-width="2.2"/>
<circle cx="172.4" cy="627.2" r="5.9" fill="none" stroke="#0000ff" stroke-width="2.3"/>
<line x1="138.8" y1="664.6" x2="208" y2="664.6" stroke="#c8101a" stroke-width="3.2"/>
<text x="214.99" y="637.80" font-size="28.56" stroke="#000" stroke-width="0.15">G</text><text x="248.30" y="637.80" font-size="26.04" stroke="#000" stroke-width="0.15">p</text><text x="264.91" y="637.80" font-size="26.04" stroke="#000" stroke-width="0.15">r</text><text x="275.06" y="637.80" font-size="26.04" stroke="#000" stroke-width="0.15">o</text><text x="291.88" y="637.80" font-size="26.04" stroke="#000" stroke-width="0.15">t</text><text x="301.29" y="637.80" font-size="26.04" stroke="#000" stroke-width="0.15">e</text><text x="319.00" y="637.80" font-size="26.04" stroke="#000" stroke-width="0.15">i</text><text x="326.15" y="637.80" font-size="26.04" stroke="#000" stroke-width="0.15">n</text>
<text x="213.61" y="674.60" font-size="29.07" stroke="#000" stroke-width="0.15">F</text><text x="233.76" y="674.60" font-size="26.51" stroke="#000" stroke-width="0.15">i</text><text x="239.71" y="674.60" font-size="26.51" stroke="#000" stroke-width="0.15">t</text>
<text x="474.30" y="858.30" font-size="29.00" stroke="#000" stroke-width="0.25">T</text>
<text x="494.77" y="870.50" font-size="17.00" stroke="#000" stroke-width="0.15">m</text>
<text x="518.69" y="858.30" font-size="29.00" stroke="#000" stroke-width="0.25">=</text><text x="545.66" y="858.30" font-size="29.00" stroke="#000" stroke-width="0.25">5</text><text x="562.29" y="858.30" font-size="29.00" stroke="#000" stroke-width="0.25">2</text><text x="598.64" y="858.30" font-size="29.00" stroke="#000" stroke-width="0.25">C</text>
<ellipse cx="592.5" cy="837.7" rx="3.5" ry="3.2" fill="none" stroke="#000" stroke-width="1.9"/>
<text x="474.32" y="910.50" font-size="29.00" stroke="#000" stroke-width="0.25">Δ</text><text x="491.12" y="910.50" font-size="29.00" stroke="#000" stroke-width="0.25">H</text><text x="521.94" y="910.50" font-size="29.00" stroke="#000" stroke-width="0.25">=</text><path d="M560.12,910.50 L557.57,910.50 L557.57,894.26 Q556.65,895.14 555.27,895.95 Q553.89,896.76 552.48,897.29 L552.48,894.82 Q554.86,893.71 556.41,892.32 Q557.97,890.93 558.48,889.74 L560.12,889.74 Z" stroke="#000" stroke-width="0.25"/><text x="566.27" y="910.50" font-size="29.00" stroke="#000" stroke-width="0.25">7</text><text x="582.24" y="910.50" font-size="29.00" stroke="#000" stroke-width="0.25">6</text><text x="608.45" y="910.50" font-size="29.00" stroke="#000" stroke-width="0.25">k</text><text x="623.95" y="910.50" font-size="29.00" stroke="#000" stroke-width="0.25">J</text><text x="639.57" y="910.50" font-size="29.00" stroke="#000" stroke-width="0.25">.</text><text x="647.46" y="910.50" font-size="29.00" stroke="#000" stroke-width="0.25">m</text><text x="672.79" y="910.50" font-size="29.00" stroke="#000" stroke-width="0.25">o</text><text x="691.42" y="910.50" font-size="29.00" stroke="#000" stroke-width="0.25">l</text>
<text x="698.89" y="893.30" font-size="14.50" stroke="#000" stroke-width="0.15">-</text><path d="M709.26,893.30 L707.99,893.30 L707.99,885.18 Q707.53,885.62 706.84,886.03 Q706.15,886.43 705.44,886.69 L705.44,885.46 Q706.63,884.90 707.41,884.21 Q708.19,883.52 708.44,882.92 L709.26,882.92 Z" stroke="#000" stroke-width="0.15"/>
<g transform="rotate(-90)">
<text x="-969.07" y="43.60" font-size="33.50" stroke="#000" stroke-width="0.30">(</text><text x="-914.98" y="43.60" font-size="33.50" stroke="#000" stroke-width="0.30">-</text><text x="-873.89" y="43.60" font-size="33.50" stroke="#000" stroke-width="0.30">)</text><text x="-853.70" y="43.60" font-size="33.50" stroke="#000" stroke-width="0.30">/</text><text x="-832.92" y="43.60" font-size="33.50" stroke="#000" stroke-width="0.30">(</text><text x="-778.68" y="43.60" font-size="33.50" stroke="#000" stroke-width="0.30">-</text><text x="-720.99" y="43.60" font-size="33.50" stroke="#000" stroke-width="0.30">)</text>
<text x="-956.58" y="43.40" font-size="30.50" stroke="#000" stroke-width="0.30">θ</text><text x="-892.13" y="43.40" font-size="30.50" stroke="#000" stroke-width="0.30">θ</text><text x="-820.63" y="43.40" font-size="30.50" stroke="#000" stroke-width="0.30">θ</text><text x="-756.18" y="43.40" font-size="30.50" stroke="#000" stroke-width="0.30">θ</text>
<text x="-941.38" y="57.30" font-size="25.00" stroke="#000" stroke-width="0.18">N</text><text x="-805.48" y="57.30" font-size="25.00" stroke="#000" stroke-width="0.18">N</text><text x="-740.33" y="57.30" font-size="25.00" stroke="#000" stroke-width="0.18">U</text>
</g>
</svg></body></html>
